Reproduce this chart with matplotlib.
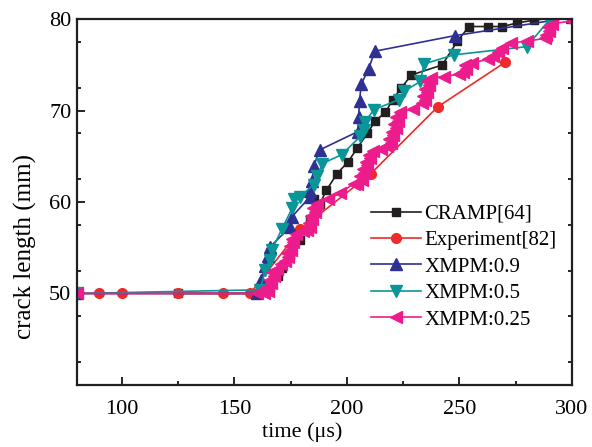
import matplotlib
matplotlib.use("Agg")
import matplotlib.pyplot as plt
from matplotlib.ticker import FixedLocator

plt.rcParams['font.family'] = ['Liberation Serif', 'DejaVu Serif']
plt.rcParams['mathtext.fontset'] = 'stix'

# CRAMP[64]
cramp_x = [125, 160, 166, 169.5, 171.1, 174.8, 179.3, 183.7, 185.2, 188.0, 190.9, 195.6,
           200.5, 204.6, 209.0, 212.7, 217.1, 220.3, 224.2, 228.7, 242.4, 249.1, 254.3,
           262.5, 269.1, 275.8, 283.2, 300]
cramp_y = [50, 50, 50.6, 51.9, 52.8, 54.2, 55.9, 58.1, 60.3, 59.8, 61.3, 63.1,
           64.4, 65.9, 67.5, 68.9, 69.8, 71.2, 72.5, 73.9, 75.0, 77.6, 79.2,
           79.2, 79.2, 79.6, 79.9, 80.4]

# Experiment[82]
exp_x = [80, 90, 100, 125, 145, 157, 179.3, 210.6, 240.3, 270.4]
exp_y = [50, 50, 50, 50, 50, 50, 57.0, 63.1, 70.4, 75.3]

# XMPM:0.9
x09 = [80, 160, 162, 163.6, 164.7, 165.9, 174.8, 175.6, 183.7, 183.7, 184.5, 185.2,
       187.9, 204.8, 205.2, 205.6, 206.4, 209.7, 212.4, 247.9, 300]
y09 = [50, 50, 51.5, 53.0, 54.1, 55.1, 57.3, 58.4, 60.6, 61.2, 62.3, 63.9,
       65.7, 67.7, 69.3, 71.1, 72.9, 74.6, 76.5, 78.2, 80.2]

# XMPM:0.5
x05 = [80, 161.5, 163.7, 165.9, 166.7, 171.0, 175.6, 176.3, 179.3, 185.2, 186.8, 189.0,
       197.8, 206.0, 207.4, 208.2, 211.9, 223.1, 225.3, 232.7, 234.2, 247.5, 279.9,
       289.9, 300]
y05 = [50, 50.4, 52.6, 53.7, 54.8, 57.0, 59.3, 60.3, 60.6, 61.9, 62.8, 64.2,
       65.2, 67.2, 67.9, 68.8, 70.1, 71.2, 72.1, 73.2, 75.1, 76.1, 77.0,
       79.9, 80.1]

# XMPM:0.25
x025 = [80, 160, 163.0, 165.0, 164.3, 166.2, 165.6, 167.5, 166.9, 168.8, 170.5,
        172.5, 174.0, 173.4, 175.1, 174.5, 176.2, 175.6, 177.5, 180.6,
        182.2, 183.6, 183.0, 184.6, 184.0, 185.6, 185.0, 186.8, 191.8, 197.0, 203.0,
        204.5, 206.5, 205.8, 207.8, 207.2, 209.0, 208.4, 210.3, 209.7, 211.5, 215.0,
        218.0, 219.5, 218.9, 220.5, 219.9, 221.6, 221.0, 222.6, 222.0, 223.8, 229.5,
        233.2, 234.6, 234.0, 235.5, 234.9, 236.4, 235.8, 237.5, 243.0, 250.0,
        251.5, 253.0, 252.4, 255.5, 262.5, 265.0, 267.0, 269.0, 272.8, 280.0, 288.0,
        288.5, 290.0, 289.5, 291.0, 300]
y025 = [50, 50, 50.0, 50.3, 50.7, 51.1, 51.5, 51.9, 52.3, 52.7, 53.2,
        53.6, 54.0, 54.4, 54.8, 55.2, 55.6, 56.0, 56.5, 56.8,
        56.9, 57.3, 57.7, 58.1, 58.5, 58.9, 59.3, 59.8, 60.3, 61.0, 62.0,
        62.0, 62.4, 62.8, 63.2, 63.6, 64.0, 64.4, 64.8, 65.2, 65.6, 65.8,
        66.1, 66.5, 66.9, 67.3, 67.7, 68.1, 68.5, 68.9, 69.3, 69.8, 70.2,
        70.8, 71.2, 71.6, 72.0, 72.4, 72.8, 73.2, 73.6, 73.7, 74.0,
        74.2, 74.6, 75.0, 75.2, 75.6, 76.0, 76.4, 76.8, 77.4, 77.6, 77.9,
        78.3, 78.7, 79.1, 79.5, 79.8]

fig = plt.figure(figsize=(5.92, 4.47), dpi=100)
ax = fig.add_axes([0.130, 0.139, 0.836, 0.818])

lw = 1.2
ax.plot(cramp_x, cramp_y, '-s', color='#231F20', lw=lw, ms=6, label='CRAMP[64]')
ax.plot(exp_x, exp_y, '-o', color='#EE2A2A', lw=lw, ms=7, label='Experiment[82]')
ax.plot(x09, y09, '-^', color='#2E3192', lw=lw, ms=8, label='XMPM:0.9')
ax.plot(x05, y05, '-v', color='#0A9598', lw=lw, ms=8, label='XMPM:0.5')
ax.plot(x025, y025, '-<', color='#EC1C8C', lw=lw, ms=8, label='XMPM:0.25')

ax.set_xlim(80, 300)
ax.set_ylim(40, 80)
ax.set_xticks([100, 150, 200, 250, 300])
ax.xaxis.set_minor_locator(FixedLocator([125, 175, 225, 275]))
ax.set_yticks([50, 60, 70, 80])
ax.yaxis.set_minor_locator(FixedLocator([42.5, 47.5, 52.5, 57.5, 62.5, 67.5, 72.5, 77.5]))

ax.tick_params(which='both', direction='in', labelsize=16, width=1.2)
ax.tick_params(axis='x', which='major', length=6, pad=11)
ax.tick_params(axis='y', which='major', length=6, pad=4)
ax.tick_params(which='minor', length=3)
ax.tick_params(axis='y', which='minor', right=True)
for s in ax.spines.values():
    s.set_linewidth(1.6)
    s.set_color('#231F20')

ax.set_xlabel('time (μs)', fontsize=16)
ax.xaxis.set_label_coords(0.455, -0.103)
ax.set_ylabel('crack length (mm)', fontsize=18)
ax.yaxis.set_label_coords(-0.081, 0.378)

ax.legend(loc='upper left', bbox_to_anchor=(0.595, 0.494), frameon=False, fontsize=15,
          handlelength=2.4, handletextpad=0.15, labelspacing=0.33,
          borderpad=0, borderaxespad=0)

fig.savefig('out.png', dpi=100)
